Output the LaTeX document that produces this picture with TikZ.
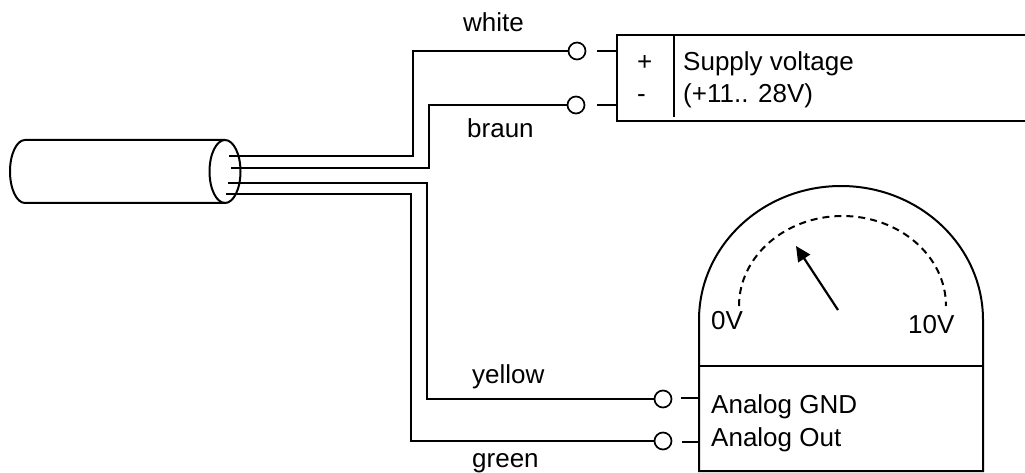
\documentclass[tikz,border=0pt]{standalone}
\usepackage{fontspec}
\setmainfont{Liberation Sans}
\usepackage{tikz}
\usetikzlibrary{arrows.meta}
\tikzset{
  wire/.style={line width=2pt},
  term/.style={circle,draw,line width=1.7pt,fill=white,minimum size=17pt,inner sep=0pt},
  lbl/.style={inner sep=0pt,anchor=base west,font=\fontsize{26}{28}\selectfont},
}
\begin{document}
\begin{tikzpicture}[x=1pt,y=-1pt]
\useasboundingbox (0,0) rectangle (1025,473);
% cable
\draw [wire] (25,140) -- (225,140) arc (-90:90:15.5 and 31.5) -- (25,203) arc (90:270:15 and 31.5) -- cycle;
\draw [wire] (225,140) arc (270:90:15.5 and 31.5);
% terminals
\node [term] (w) at (577,51) {};
\node [term] (b) at (576,105) {};
\node [term] (y) at (663,399) {};
\node [term] (g) at (663,441) {};
\coordinate (wc) at (229,156);
\coordinate (bc) at (231,168);
\coordinate (yc) at (228,183);
\coordinate (gc) at (226,194);
\coordinate (wk) at (413,156);
\coordinate (wt) at (413,51);
\coordinate (bk) at (429,168);
\coordinate (bt) at (429,105);
\coordinate (yk) at (427,183);
\coordinate (yt) at (427,399);
\coordinate (gk) at (411,194);
\coordinate (gt) at (411,441);
\draw [wire] (wc) -- (wk) -- (wt) -- (w);
\draw [wire] (bc) -- (bk) -- (bt) -- (b);
\draw [wire] (yc) -- (yk) -- (yt) -- (y);
\draw [wire] (gc) -- (gk) -- (gt) -- (g);
\node [lbl] (lw) at (463,32) {white};
\node [lbl] (lb) at (467,138) {braun};
\node [lbl] (ly) at (472,383) {yellow};
\node [lbl] (lg) at (472,467.5) {green};
% supply
\draw [wire] (1025,35) -- (617,35) -- (617,121) -- (1025,121);
\draw [wire] (674,36) -- (674,117);
\coordinate (sw) at (617,51);
\coordinate (sb) at (617,105);
\coordinate (swe) at (597,51);
\coordinate (sbe) at (597,105);
\draw [wire] (swe) -- (sw);
\draw [wire] (sbe) -- (sb);
\node [lbl] (plus) at (637,71) {+};
\node [lbl] (minus) at (637,103) {-};
\node [lbl] (s1) at (683,71) {Supply voltage};
\node [lbl] (s2) at (683,103) {(+11.. 28V)};
% meter
\draw [wire] (699,471) -- (699,320) arc (180:360:142 and 134) -- (983,471) -- cycle;
\draw [wire] (699,366) -- (983,366);
\draw [wire,dash pattern=on 7pt off 5pt] (739,306) arc (180:360:103.5 and 90);
\draw [line width=2.2pt,-{Triangle[length=15pt,width=14pt]}] (838,310) -- (796,246);
\coordinate (mg) at (699,398);
\coordinate (mo) at (699,442);
\coordinate (mge) at (681,398);
\coordinate (moe) at (682,442);
\draw [wire] (mge) -- (mg);
\draw [wire] (moe) -- (mo);
\node [lbl] (zero) at (711,329) {0V};
\node [lbl] (ten) at (908,333) {10V};
\node [lbl] (g1) at (711,413) {Analog GND};
\node [lbl] (g2) at (711,446) {Analog Out};
\end{tikzpicture}
\end{document}
